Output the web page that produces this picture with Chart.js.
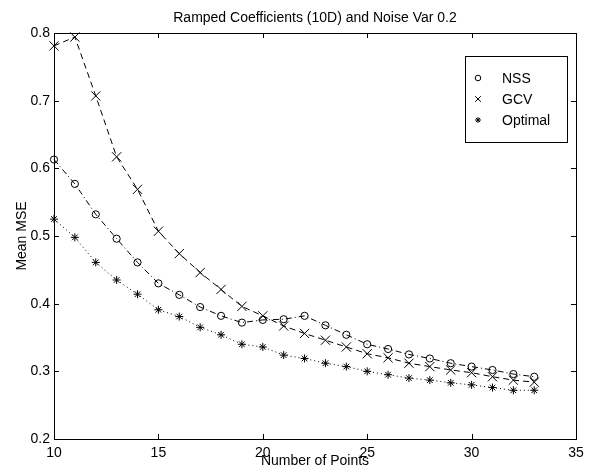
<!DOCTYPE html>
<html>
<head>
<meta charset="utf-8">
<script src="https://cdn.jsdelivr.net/npm/chart.js@4.4.1/dist/chart.umd.min.js"></script>
<style>
  body { margin: 0; background: #fff; }
</style>
</head>
<body>
<canvas id="mseChart" width="594" height="474"></canvas>
<script>
// Number of points on the x axis
const points = [10, 11, 12, 13, 14, 15, 16, 17, 18, 19, 20, 21, 22, 23, 24, 25, 26, 27, 28, 29, 30, 31, 32, 33];

// Mean MSE for each method
const nss = [0.613, 0.577, 0.532, 0.496, 0.461, 0.430, 0.413, 0.395, 0.382, 0.372, 0.376, 0.377,
             0.382, 0.368, 0.354, 0.340, 0.333, 0.325, 0.319, 0.312, 0.307, 0.302, 0.296, 0.292];
const gcv = [0.781, 0.794, 0.707, 0.617, 0.569, 0.507, 0.474, 0.446, 0.421, 0.396, 0.382, 0.367,
             0.356, 0.346, 0.336, 0.326, 0.320, 0.312, 0.307, 0.302, 0.298, 0.292, 0.287, 0.284];
const optimal = [0.525, 0.498, 0.461, 0.435, 0.414, 0.391, 0.381, 0.365, 0.354, 0.340, 0.336, 0.324,
                 0.319, 0.312, 0.307, 0.300, 0.295, 0.290, 0.287, 0.283, 0.280, 0.276, 0.272, 0.272];

const seriesLabels = ['NSS', 'GCV', 'Optimal'];
const xTicks = [10, 15, 20, 25, 30, 35];
const yTicks = [0.2, 0.3, 0.4, 0.5, 0.6, 0.7, 0.8];

const FONT = 'Liberation Sans, Arial, Helvetica, sans-serif';

function toXY(ys) {
    return ys.map((y, i) => ({ x: points[i], y: y }));
}

// Box around the axes with inward ticks on all four sides, plus the legend
const matlabFrame = {
    id: 'matlabFrame',
    beforeDatasetsDraw(chart) {
        const { ctx, chartArea: a, scales: { x, y } } = chart;
        ctx.save();
        ctx.strokeStyle = '#000';
        ctx.lineWidth = 1;
        ctx.strokeRect(a.left + 0.5, a.top + 0.5, a.right - a.left, a.bottom - a.top);
        ctx.beginPath();
        xTicks.forEach(v => {
            const px = Math.round(x.getPixelForValue(v)) + 0.5;
            ctx.moveTo(px, a.bottom); ctx.lineTo(px, a.bottom - 5);
            ctx.moveTo(px, a.top); ctx.lineTo(px, a.top + 5);
        });
        yTicks.forEach(v => {
            const py = Math.round(y.getPixelForValue(v)) + 0.5;
            ctx.moveTo(a.left, py); ctx.lineTo(a.left + 5, py);
            ctx.moveTo(a.right, py); ctx.lineTo(a.right - 5, py);
        });
        ctx.stroke();
        ctx.restore();
    },
    afterDatasetsDraw(chart) {
        const { ctx } = chart;
        const bx = 465, by = 56, bw = 102, bh = 86;
        ctx.save();
        ctx.fillStyle = '#fff';
        ctx.fillRect(bx, by, bw, bh);
        ctx.strokeStyle = '#000';
        ctx.lineWidth = 1;
        ctx.strokeRect(bx + 0.5, by + 0.5, bw, bh);
        ctx.font = '14px ' + FONT;
        ctx.textBaseline = 'middle';
        chart.data.datasets.forEach((ds, i) => {
            const ly = 78 + i * 21;
            ctx.fillStyle = 'rgba(0,0,0,0)';
            ctx.strokeStyle = '#000';
            ctx.setLineDash([]);
            Chart.helpers.drawPoint(ctx, {
                pointStyle: ds.pointStyle,
                radius: ds.legendRadius,
                borderWidth: 1,
                rotation: 0
            }, 478, ly);
            ctx.fillStyle = '#000';
            ctx.fillText(ds.label, 502, ly + 1);
        });
        ctx.restore();
    }
};

const common = {
    showLine: true,
    borderColor: '#000',
    borderWidth: 1,
    pointBorderColor: '#000',
    pointBackgroundColor: 'rgba(0,0,0,0)',
    pointBorderWidth: 1,
    clip: false
};

new Chart(document.getElementById('mseChart'), {
    type: 'scatter',
    data: {
        datasets: [
            Object.assign({}, common, {
                label: seriesLabels[0], data: toXY(nss),
                borderDash: [6, 3, 1, 3], pointStyle: 'circle', pointRadius: 3.6, legendRadius: 2.8
            }),
            Object.assign({}, common, {
                label: seriesLabels[1], data: toXY(gcv),
                borderDash: [6, 4], pointStyle: 'crossRot', pointRadius: 6.5, legendRadius: 4
            }),
            Object.assign({}, common, {
                label: seriesLabels[2], data: toXY(optimal),
                borderDash: [1, 3], pointStyle: 'star', pointRadius: 4, legendRadius: 3
            })
        ]
    },
    options: {
        responsive: false,
        animation: false,
        layout: { padding: { left: 0, right: 18, top: 0, bottom: 0 } },
        plugins: {
            legend: { display: false },
            tooltip: { enabled: false },
            title: {
                display: true,
                fullSize: false,
                text: 'Ramped Coefficients (10D) and Noise Var 0.2',
                color: '#000',
                font: { family: FONT, size: 14, weight: 'normal' },
                padding: { top: 9.6, bottom: 6.6 }
            }
        },
        scales: {
            x: {
                type: 'linear',
                min: 10, max: 35,
                afterFit: s => { s.height = 35; },
                afterBuildTicks: s => { s.ticks = xTicks.map(v => ({ value: v })); },
                grid: { display: false, drawTicks: false },
                border: { display: false },
                ticks: { color: '#000', padding: 6, font: { family: FONT, size: 14 }, maxRotation: 0 },
                title: {
                    display: true, text: 'Number of Points', color: '#000',
                    font: { family: FONT, size: 14 }, padding: { top: 0, bottom: 4.6 }
                }
            },
            y: {
                type: 'linear',
                min: 0.2, max: 0.8,
                afterFit: s => { s.width = 54; },
                afterBuildTicks: s => { s.ticks = yTicks.map(v => ({ value: v })); },
                grid: { display: false, drawTicks: false },
                border: { display: false },
                ticks: {
                    color: '#000', padding: 4, font: { family: FONT, size: 14 },
                    callback: v => v.toFixed(1)
                },
                title: {
                    display: true, text: 'Mean MSE', color: '#000',
                    font: { family: FONT, size: 14 }, padding: { top: 13.3, bottom: 0 }
                }
            }
        }
    },
    plugins: [matlabFrame]
});
</script>
</body>
</html>
